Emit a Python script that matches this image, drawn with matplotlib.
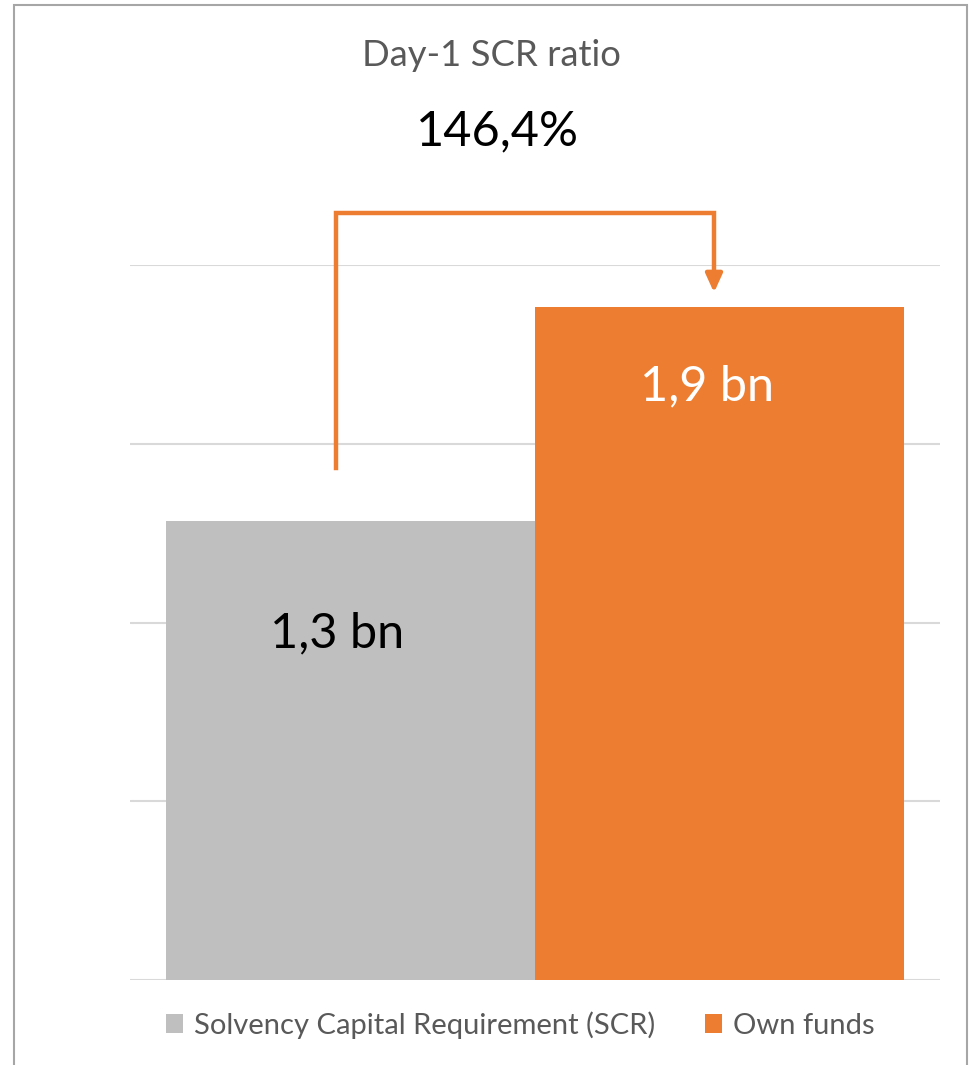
import matplotlib
matplotlib.use("Agg")
import matplotlib.pyplot as plt
from matplotlib.patches import Rectangle, Patch

plt.rcParams['font.family'] = ['Lato', 'DejaVu Sans']

# ---- data ----
series = ["Solvency Capital Requirement (SCR)", "Own funds"]
values = [1.283, 1.883]          # bn
labels = ["1,3 bn", "1,9 bn"]
ratio_text = "146,4%"
title = "Day-1 SCR ratio"
yticks = [0, 0.5, 1.0, 1.5, 2.0]

colors = ["#BFBFBF", "#ED7D31"]
label_colors = ["black", "white"]

W, H = 970, 1065
fig = plt.figure(figsize=(W / 100, H / 100), dpi=100)
fig.patch.set_facecolor("white")

# border
fig.add_artist(Rectangle((14 / W, -0.01), (967 - 14) / W, 1 - 5 / H + 0.01,
                         transform=fig.transFigure, fill=False,
                         edgecolor="#A6A6A6", linewidth=1.5))

ax = fig.add_axes([130 / W, 1 - 980 / H, 810 / W, (980 - 265) / H])
ax.set_xlim(-0.5, 0.5)
ax.set_ylim(0, 2.0)
for s in ax.spines.values():
    s.set_visible(False)
ax.set_xticks([])
ax.set_yticks(yticks)
ax.tick_params(left=False, labelleft=False)
ax.yaxis.grid(True, color="#D9D9D9", linewidth=1.5)
ax.set_axisbelow(True)

width = 0.455
xs = [-0.228, 0.228]
for x, v, c, name in zip(xs, values, colors, series):
    ax.bar(x, v, width=width, color=c, label=name, zorder=2)

# data labels (inside end)
offsets = [-112, -80]
for x, v, lab, lc, off in zip(xs, values, labels, label_colors, offsets):
    ax.annotate(lab, xy=(x, v), xytext=(-13, off), textcoords="offset pixels",
                ha="center", va="center", fontsize=35, color=lc, zorder=3)

# arrow from SCR bar to own funds bar
arrow_color = "#ED7D31"
y_start = values[0] + 0.15
y_top = 2.145
y_tip = values[1] + 0.04
x0 = xs[0] - 0.018
x1 = xs[1] - 0.007
ax.plot([x0, x0, x1, x1], [y_start, y_top, y_top, y_tip + 0.04],
        color=arrow_color, linewidth=3.2, clip_on=False, zorder=4,
        solid_joinstyle="miter")
ax.annotate("", xy=(x1, y_tip), xytext=(x1, y_tip + 0.05),
            arrowprops=dict(arrowstyle="-|>,head_length=1.1,head_width=0.5",
                            color=arrow_color, lw=3.2, shrinkA=0, shrinkB=0),
            annotation_clip=False, zorder=4)

# title + ratio
fig.text(491 / W, 1 - 55 / H, title, ha="center", va="center",
         fontsize=26.3, color="#595959")
fig.text(497 / W, 1 - 131 / H, ratio_text, ha="center", va="center",
         fontsize=35, color="black")

# legend
handles = [Patch(facecolor=c, edgecolor="none") for c in colors]
fig.legend(handles, series, loc="center", bbox_to_anchor=(520 / W, 1 - 1025 / H),
           ncol=2, frameon=False, fontsize=21, labelcolor="#595959",
           handlelength=0.58, handleheight=0.6, handletextpad=0.38,
           columnspacing=1.7, borderpad=0)

fig.savefig("out.png", dpi=100)
